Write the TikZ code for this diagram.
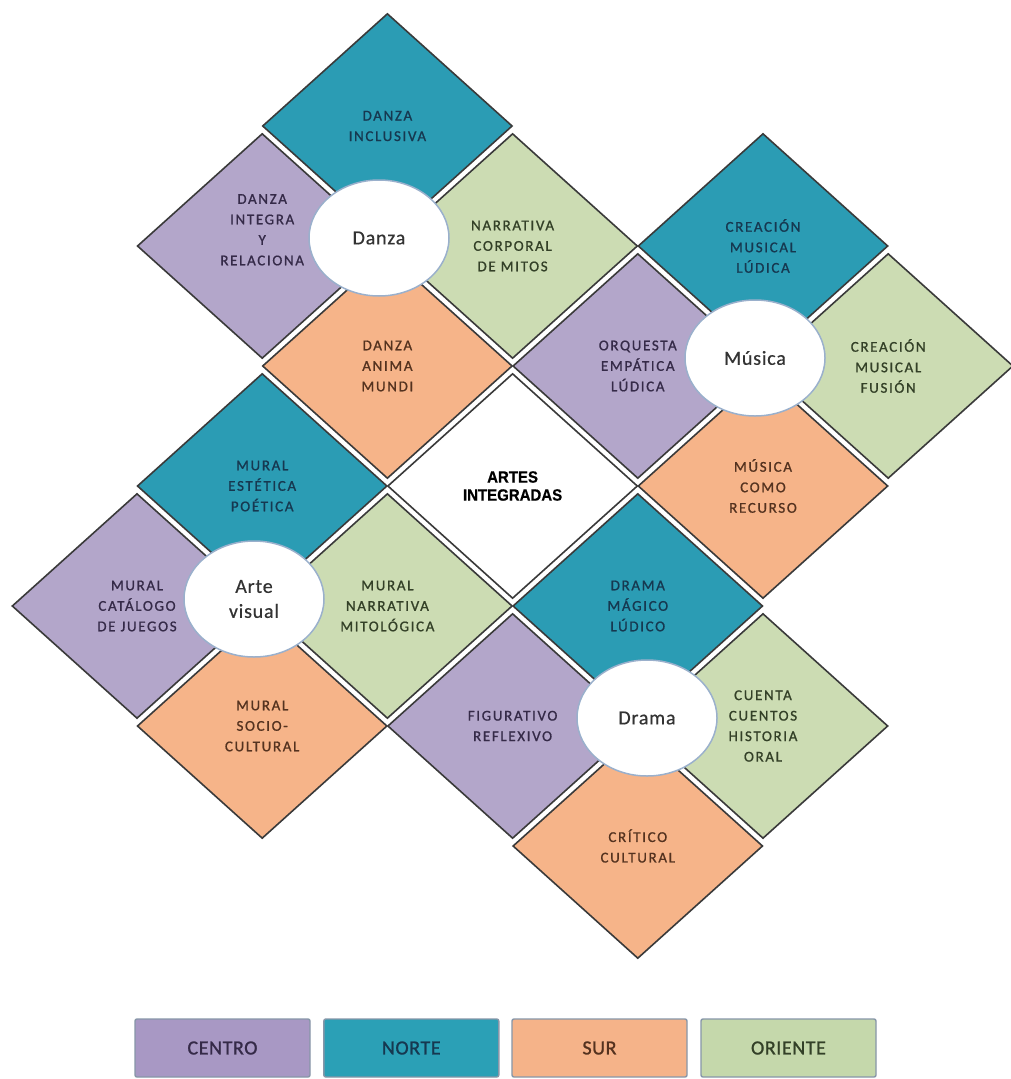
\documentclass[tikz,border=0pt]{standalone}
\usepackage{fontspec}
\setmainfont{Carlito}
\newfontfamily\lblfont[LetterSpace=11,FakeBold=0.9]{Carlito}
\newfontfamily\circfont[LetterSpace=4,FakeBold=0.5]{Carlito}
\newfontfamily\legfont[LetterSpace=3,FakeBold=1.1]{Carlito}
\newfontfamily\artfont[FakeStretch=0.92,FakeBold=0.6]{Liberation Sans}
\usetikzlibrary{shapes.geometric}
\definecolor{cPur}{HTML}{B3A6CA}
\definecolor{cTea}{HTML}{2B9CB4}
\definecolor{cOra}{HTML}{F6B489}
\definecolor{cGre}{HTML}{CCDCB3}
\definecolor{tPur}{HTML}{352A48}
\definecolor{tTea}{HTML}{163850}
\definecolor{tOra}{HTML}{54321F}
\definecolor{tGre}{HTML}{334027}
\definecolor{lPur}{HTML}{A898C4}
\definecolor{lTea}{HTML}{2BA0B6}
\definecolor{lOra}{HTML}{F5B389}
\definecolor{lGre}{HTML}{C5D8AB}
\definecolor{bordc}{HTML}{3A3A3A}
\definecolor{circB}{HTML}{9AB0CC}
\definecolor{legB}{HTML}{8796A8}
\newcommand\lblf{\lblfont\fontsize{15}{20.5}\selectfont}
\newcommand\circf{\circfont\fontsize{20}{25}\selectfont}
\newcommand\legf{\legfont\fontsize{20}{24}\selectfont}
\newcommand\artf{\artfont\bfseries\fontsize{16.3}{18}\selectfont}
\tikzset{
  rombo/.style={diamond, draw=bordc, line width=1.6pt, minimum width=250pt,
    minimum height=225pt, inner sep=0pt, align=center, font=\lblf},
  centro/.style={rombo, fill=cPur, text=tPur},
  norte/.style={rombo, fill=cTea, text=tTea},
  sur/.style={rombo, fill=cOra, text=tOra},
  oriente/.style={rombo, fill=cGre, text=tGre},
  nucleo/.style={rombo, fill=white, text=black, font=\artf},
  circ/.style={ellipse, draw=circB, fill=white, line width=1.5pt,
    minimum width=140pt, minimum height=116pt, inner sep=0pt,
    font=\circf, text=black!80, align=center},
  leyenda/.style={rectangle, rounded corners=2pt, draw=legB, line width=1.4pt,
    minimum width=175pt, minimum height=58pt, inner sep=0pt, font=\legf}
}
\begin{document}
\begin{tikzpicture}[x=1pt,y=-1pt]
\fill[white] (0,0) rectangle (1010,1079);
\useasboundingbox (0,0) rectangle (1010,1079);
% columns: 137 + 125.2 k ; rows: 126 + 120 r
% Danza
\node[norte]   (dzN) at (387.4,126) {DANZA\\INCLUSIVA};
\node[centro]  (dzC) at (262.2,246) {DANZA\\INTEGRA\\Y\\RELACIONA\\[12pt]};
\node[oriente] (dzO) at (512.6,246) {NARRATIVA\\CORPORAL\\DE MITOS};
\node[sur]     (dzS) at (387.4,366) {DANZA\\ANIMA\\MUNDI};
% Musica
\node[norte]   (muN) at (763.0,246) {CREACIÓN\\MUSICAL\\LÚDICA};
\node[centro]  (muC) at (637.8,366) {ORQUESTA\\EMPÁTICA\\LÚDICA};
\node[oriente] (muO) at (888.2,366) {CREACIÓN\\MUSICAL\\FUSIÓN};
\node[sur]     (muS) at (763.0,486) {MÚSICA\\COMO\\RECURSO};
% Centro
\node[nucleo]  (art) at (512.6,486) {ARTES\\INTEGRADAS};
% Arte visual
\node[norte]   (avN) at (262.2,486) {MURAL\\ESTÉTICA\\POÉTICA};
\node[centro]  (avC) at (137.0,606) {MURAL\\CATÁLOGO\\DE JUEGOS};
\node[oriente] (avO) at (387.4,606) {MURAL\\NARRATIVA\\MITOLÓGICA};
\node[sur]     (avS) at (262.2,726) {MURAL\\SOCIO-\\CULTURAL};
% Drama
\node[norte]   (drN) at (637.8,606) {DRAMA\\MÁGICO\\LÚDICO};
\node[centro]  (drC) at (512.6,726) {FIGURATIVO\\REFLEXIVO};
\node[oriente] (drO) at (763.0,726) {CUENTA\\CUENTOS\\HISTORIA\\ORAL};
\node[sur]     (drS) at (637.8,846) {CRÍTICO\\CULTURAL};
% circles
\node[circ] (cDanza)  at (379,238) {Danza};
\node[circ] (cMusica) at (755,358) {Música};
\node[circ] (cArte)   at (254,599) {Arte\\visual};
\node[circ] (cDrama)  at (647,718) {Drama};
% legend
\node[leyenda, fill=lPur, text=tPur] (lg1) at (222.5,1048) {CENTRO};
\node[leyenda, fill=lTea, text=tTea] (lg2) at (411.3,1048) {NORTE};
\node[leyenda, fill=lOra, text=tOra] (lg3) at (599.5,1048) {SUR};
\node[leyenda, fill=lGre, text=tGre] (lg4) at (788.5,1048) {ORIENTE};
\end{tikzpicture}
\end{document}
